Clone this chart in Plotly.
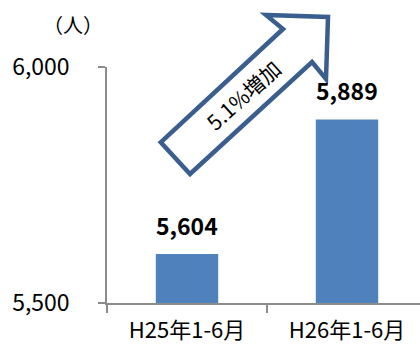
import plotly.graph_objects as go

# Data
categories = ["H25年1-6月", "H26年1-6月"]
visitors = [5604, 5889]
y_ticks = [5500, 6000]
unit_label = "（人）"
growth_label = "5.1%増加"

FONT = "Noto Sans CJK JP"
BAR_COLOR = "#4F81BD"
ARROW_COLOR = "#3A5F8E"
AXIS_COLOR = "#8C8C8C"

W, H = 420, 349
M_L, M_R, M_T, M_B = 107, 0, 67, 46
PLOT_W = W - M_L - M_R
PLOT_H = H - M_T - M_B


def px_to_paper(px, py):
    """Convert figure pixel position to paper coordinates."""
    return (px - M_L) / PLOT_W, (H - M_B - py) / PLOT_H


fig = go.Figure(
    go.Bar(
        x=categories,
        y=visitors,
        marker=dict(color=BAR_COLOR, line=dict(width=0)),
        width=0.39,
        hoverinfo="x+y",
    )
)

# Value labels above bars
for cat, val in zip(categories, visitors):
    fig.add_annotation(
        x=cat, y=val, xref="x", yref="y",
        text=f"<b>{val:,}</b>",
        showarrow=False, yanchor="bottom", yshift=10,
        font=dict(family=FONT, size=23, color="#000000"),
    )

# Unit label
ux, uy = px_to_paper(73, 24)
fig.add_annotation(
    x=ux, y=uy, xref="paper", yref="paper", text=unit_label,
    showarrow=False, xanchor="center", yanchor="middle",
    font=dict(family=FONT, size=20, color="#000000"),
)

# Outline arrow showing growth
arrow_pts = [(160.7, 142.3), (190, 174), (312, 62), (326, 79),
             (328, 17), (266, 15), (283, 29)]
path = ""
for i, (px, py) in enumerate(arrow_pts):
    xp, yp = px_to_paper(px, py)
    path += ("M" if i == 0 else "L") + f"{xp:.4f},{yp:.4f} "
path += "Z"
fig.add_shape(
    type="path", path=path, xref="paper", yref="paper",
    line=dict(color=ARROW_COLOR, width=4.5), fillcolor="white",
    layer="above",
)

tx, ty = px_to_paper(243, 95)
fig.add_annotation(
    x=tx, y=ty, xref="paper", yref="paper", text=growth_label,
    showarrow=False, textangle=-42, xanchor="center", yanchor="middle",
    font=dict(family=FONT, size=21, color="#000000"),
)

fig.update_layout(
    width=W, height=H,
    margin=dict(l=M_L, r=M_R, t=M_T, b=M_B, pad=0, autoexpand=False),
    paper_bgcolor="white", plot_bgcolor="white",
    showlegend=False,
    font=dict(family=FONT, color="#000000"),
    xaxis=dict(
        range=[-0.5, -0.5 + PLOT_W / 160],
        automargin=False,
        showline=True, linecolor=AXIS_COLOR, linewidth=1.5,
        ticks="outside", tickson="boundaries", ticklen=8,
        tickcolor=AXIS_COLOR, tickwidth=1.5,
        showgrid=False, zeroline=False,
        tickfont=dict(family=FONT, size=22, color="#000000"),
        ticklabelstandoff=7,
    ),
    yaxis=dict(
        range=[y_ticks[0], y_ticks[-1]],
        tickvals=y_ticks, tickformat=",",
        automargin=False,
        showline=True, linecolor=AXIS_COLOR, linewidth=1.5,
        ticks="outside", ticklen=7, tickcolor=AXIS_COLOR, tickwidth=1.5,
        showgrid=False, zeroline=False,
        tickfont=dict(family=FONT, size=23, color="#000000"),
        ticklabelstandoff=24,
    ),
)

fig.write_html("out.html")
